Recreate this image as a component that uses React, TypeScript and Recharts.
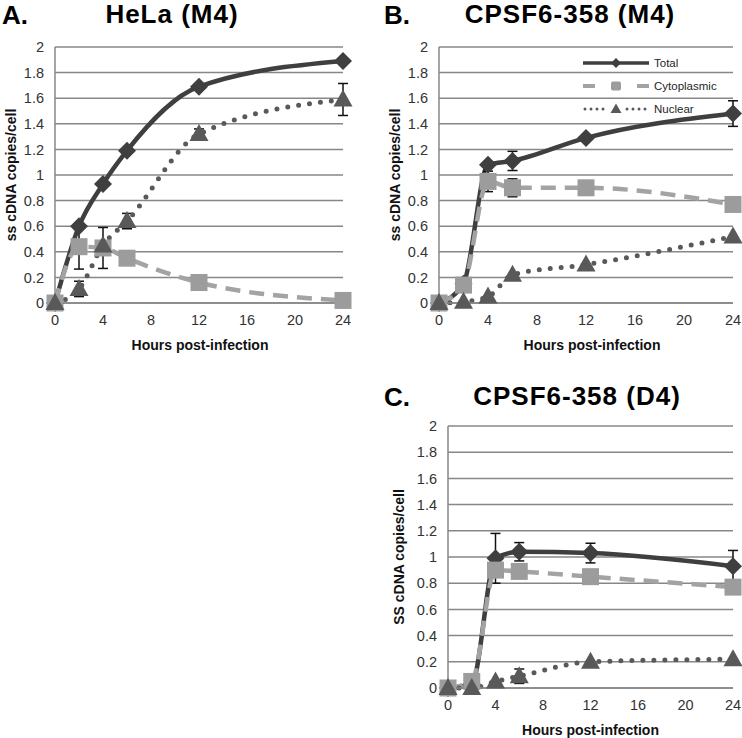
import { LineChart, Line, XAxis, YAxis, CartesianGrid, ErrorBar, Legend } from 'recharts'

const hours = [0, 2, 4, 6, 12, 24]
const xTicks = [0, 4, 8, 12, 16, 20, 24]
const yTicks = [0, 0.2, 0.4, 0.6, 0.8, 1, 1.2, 1.4, 1.6, 1.8, 2]

// A. HeLa (M4)
const helaTotal = [0, 0.6, 0.93, 1.19, 1.69, 1.89]
const helaCyto = [0, 0.44, 0.43, 0.35, 0.16, 0.02]
const helaNuc = [0, 0.11, 0.45, 0.64, 1.32, 1.59]
const helaTotalErr = [0, 0, 0, 0, 0, 0]
const helaCytoErr = [0, 0.175, 0.16, 0, 0, 0]
const helaNucErr = [0, 0.06, 0, 0.06, 0.04, 0.125]

// B. CPSF6-358 (M4)
const m4Total = [0, 0.15, 1.08, 1.11, 1.29, 1.48]
const m4Cyto = [0, 0.14, 0.95, 0.9, 0.9, 0.77]
const m4Nuc = [0, 0.01, 0.05, 0.22, 0.3, 0.52]
const m4TotalErr = [0, 0, 0, 0.075, 0, 0.1]
const m4CytoErr = [0, 0, 0.08, 0.07, 0, 0]
const m4NucErr = [0, 0, 0, 0, 0, 0]

// C. CPSF6-358 (D4)
const d4Total = [0, 0.03, 0.99, 1.04, 1.03, 0.93]
const d4Cyto = [0, 0.05, 0.9, 0.89, 0.85, 0.77]
const d4Nuc = [0, 0, 0.05, 0.09, 0.2, 0.22]
const d4TotalErr = [0, 0, 0.19, 0.07, 0.075, 0.12]
const d4CytoErr = [0, 0, 0, 0, 0, 0]
const d4NucErr = [0, 0, 0, 0.055, 0, 0]

const FONT = '"Liberation Sans", Arial, sans-serif'
const GRID = '#878787'
const C_TOTAL = '#3f3f3f'
const C_CYTO = '#a3a3a3'
const C_NUC = '#595959'

interface Row {
  h: number
  total: number
  cyto: number
  nuc: number
  totalErr: number
  cytoErr: number
  nucErr: number
}

function buildRows(t: number[], c: number[], n: number[], te: number[], ce: number[], ne: number[]): Row[] {
  return hours.map((h, i) => ({
    h, total: t[i], cyto: c[i], nuc: n[i], totalErr: te[i], cytoErr: ce[i], nucErr: ne[i],
  }))
}

const helaRows = buildRows(helaTotal, helaCyto, helaNuc, helaTotalErr, helaCytoErr, helaNucErr)
const m4Rows = buildRows(m4Total, m4Cyto, m4Nuc, m4TotalErr, m4CytoErr, m4NucErr)
const d4Rows = buildRows(d4Total, d4Cyto, d4Nuc, d4TotalErr, d4CytoErr, d4NucErr)

// markers
const diamondDot = (p: any) => {
  if (p.cx == null || p.cy == null) return <g key={`d${p.index}`} />
  const r = 9
  return (
    <path key={`d${p.index}`} d={`M${p.cx},${p.cy - r}L${p.cx + r},${p.cy}L${p.cx},${p.cy + r}L${p.cx - r},${p.cy}Z`} fill={C_TOTAL} />
  )
}
const squareDot = (p: any) => {
  if (p.cx == null || p.cy == null) return <g key={`s${p.index}`} />
  const s = 17
  return <rect key={`s${p.index}`} x={p.cx - s / 2} y={p.cy - s / 2} width={s} height={s} fill="#9c9c9c" />
}
const triangleDot = (p: any) => {
  if (p.cx == null || p.cy == null) return <g key={`t${p.index}`} />
  return (
    <path key={`t${p.index}`} d={`M${p.cx},${p.cy - 10}L${p.cx + 9.5},${p.cy + 7}L${p.cx - 9.5},${p.cy + 7}Z`} fill={C_NUC} />
  )
}

const LegendBox = () => {
  const rows = [
    {
      name: 'Total',
      sample: (
        <>
          <line x1={0} y1={7} x2={66} y2={7} stroke={C_TOTAL} strokeWidth={3.5} />
          <path d="M33,2L38,7L33,12L28,7Z" fill={C_TOTAL} />
        </>
      ),
    },
    {
      name: 'Cytoplasmic',
      sample: (
        <>
          <line x1={0} y1={7} x2={12} y2={7} stroke={C_CYTO} strokeWidth={4} />
          <line x1={54} y1={7} x2={66} y2={7} stroke={C_CYTO} strokeWidth={4} />
          <rect x={28} y={2.5} width={10} height={9} rx={2} fill="#9c9c9c" />
        </>
      ),
    },
    {
      name: 'Nuclear',
      sample: (
        <>
          <line x1={2} y1={7} x2={22} y2={7} stroke={C_NUC} strokeWidth={3} strokeDasharray="0 6" strokeLinecap="round" />
          <line x1={44} y1={7} x2={64} y2={7} stroke={C_NUC} strokeWidth={3} strokeDasharray="0 6" strokeLinecap="round" />
          <path d="M33,1.5L38.5,11L27.5,11Z" fill={C_NUC} />
        </>
      ),
    },
  ]
  return (
    <div>
      {rows.map(r => (
        <div key={r.name} style={{ display: 'flex', alignItems: 'center', height: 23 }}>
          <svg width={66} height={14} style={{ marginRight: 5 }}>{r.sample}</svg>
          <span style={{ fontFamily: FONT, fontSize: 11.5, color: '#262626' }}>{r.name}</span>
        </div>
      ))}
    </div>
  )
}

const yTitle = (text: string, dx: number) => (props: any) => {
  const vb = props.viewBox
  const cx = vb.x + dx
  const cy = vb.y + vb.height / 2
  return (
    <text x={cx} y={cy} transform={`rotate(-90 ${cx} ${cy})`} textAnchor="middle" dominantBaseline="central"
      style={{ fontFamily: FONT, fontSize: 14, fontWeight: 'bold', fill: '#111' }}>
      {text}
    </text>
  )
}

const xTitle = (text: string, dx: number) => (props: any) => {
  const vb = props.viewBox
  const cx = vb.x + vb.width / 2 + dx
  return (
    <text x={cx} y={vb.y + 47} textAnchor="middle"
      style={{ fontFamily: FONT, fontSize: 14, fontWeight: 'bold', fill: '#111' }}>
      {text}
    </text>
  )
}

interface PanelProps {
  rows: Row[]
  left: number
  top: number
  width: number
  height: number
  margin: { top: number; right: number; bottom: number; left: number }
  yAxisWidth: number
  yLabel: string
  yLabelX: number
  xLabelDx: number
  legend?: boolean
}

function Panel({ rows, left, top, width, height, margin, yAxisWidth, yLabel, yLabelX, xLabelDx, legend }: PanelProps) {
  return (
    <div style={{ position: 'absolute', left, top }}>
      <LineChart width={width} height={height} data={rows} margin={margin}>
        <CartesianGrid vertical={false} stroke={GRID} strokeWidth={1.5} />
        <XAxis
          dataKey="h"
          type="number"
          domain={[0, 24]}
          ticks={xTicks}
          height={50}
          tickLine={false}
          tickSize={0}
          tickMargin={12}
          axisLine={{ stroke: GRID, strokeWidth: 1.5 }}
          tick={{ fontSize: 14.5, fill: '#333', fontFamily: FONT }}
          label={{ content: xTitle('Hours post-infection', xLabelDx) } as any}
        />
        <YAxis
          type="number"
          domain={[0, 2]}
          ticks={yTicks}
          width={yAxisWidth}
          tickLine={false}
          tickSize={0}
          tickMargin={11}
          axisLine={{ stroke: GRID, strokeWidth: 1.5 }}
          tick={{ fontSize: 14.5, fill: '#333', fontFamily: FONT }}
          label={{ content: yTitle(yLabel, yLabelX) } as any}
        />
        {legend && (
          <Legend
            layout="vertical"
            align="center"
            verticalAlign="middle"
            content={<LegendBox />}
            wrapperStyle={{ left: 212, top: 51, width: 150 }}
          />
        )}
        <Line type="monotone" dataKey="total" name="Total" stroke={C_TOTAL} strokeWidth={4.5}
          dot={diamondDot} activeDot={false} isAnimationActive={false}>
          <ErrorBar dataKey="totalErr" direction="y" width={5} stroke="#111" strokeWidth={1.5} isAnimationActive={false} />
        </Line>
        <Line type="monotone" dataKey="cyto" name="Cytoplasmic" stroke={C_CYTO} strokeWidth={4.5}
          strokeDasharray="15 9" dot={squareDot} activeDot={false} isAnimationActive={false}>
          <ErrorBar dataKey="cytoErr" direction="y" width={5} stroke="#111" strokeWidth={1.5} isAnimationActive={false} />
        </Line>
        <Line type="monotone" dataKey="nuc" name="Nuclear" stroke={C_NUC} strokeWidth={5}
          strokeDasharray="0 11" strokeLinecap="round" dot={triangleDot} activeDot={false} isAnimationActive={false}>
          <ErrorBar dataKey="nucErr" direction="y" width={5} stroke="#111" strokeWidth={1.5} isAnimationActive={false} />
        </Line>
      </LineChart>
    </div>
  )
}

const titleStyle = { position: 'absolute' as const, fontFamily: FONT, fontWeight: 'bold' as const, fontSize: 26, lineHeight: 1, color: '#000' }

export default function App() {
  return (
    <div style={{ position: 'absolute', left: 0, top: 0, width: 742, height: 738, background: '#fff', overflow: 'hidden', fontFamily: FONT }}>
      <div style={{ ...titleStyle, left: 2, top: 2 }}>A.</div>
      <div style={{ ...titleStyle, left: 22, top: 1, width: 300, textAlign: 'center', letterSpacing: 1 }}>HeLa (M4)</div>
      <div style={{ ...titleStyle, left: 384, top: 2 }}>B.</div>
      <div style={{ ...titleStyle, left: 420, top: 1, width: 300, textAlign: 'center', letterSpacing: 1 }}>CPSF6-358 (M4)</div>
      <div style={{ ...titleStyle, left: 384, top: 384 }}>C.</div>
      <div style={{ ...titleStyle, left: 427, top: 383, width: 300, textAlign: 'center', letterSpacing: 1 }}>CPSF6-358 (D4)</div>

      <Panel rows={helaRows} left={0} top={0} width={371} height={360}
        margin={{ top: 47, right: 28, bottom: 7, left: 0 }} yAxisWidth={55}
        yLabel="ss cDNA copies/cell" yLabelX={11} xLabelDx={1} />
      <Panel rows={m4Rows} left={371} top={0} width={371} height={360}
        margin={{ top: 47, right: 9, bottom: 7, left: 0 }} yAxisWidth={68}
        yLabel="ss cDNA copies/cell" yLabelX={24} xLabelDx={6} legend />
      <Panel rows={d4Rows} left={371} top={370} width={371} height={368}
        margin={{ top: 56, right: 9, bottom: 0, left: 0 }} yAxisWidth={77}
        yLabel="SS cDNA copies/cell" yLabelX={28} xLabelDx={0} />
    </div>
  )
}
